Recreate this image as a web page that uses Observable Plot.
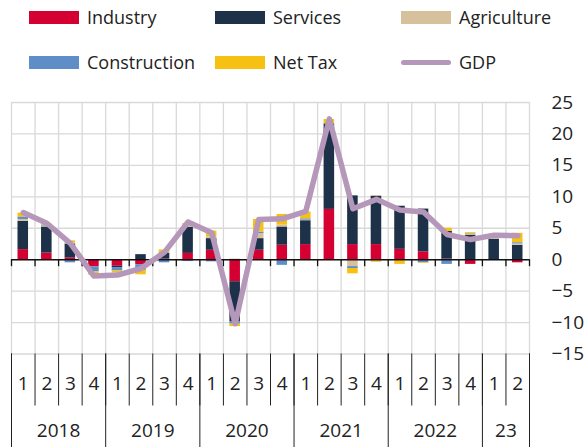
<!DOCTYPE html>
<html>
<head>
<meta charset="utf-8">
<script src="https://cdn.jsdelivr.net/npm/d3@7"></script>
<script src="https://cdn.jsdelivr.net/npm/@observablehq/plot@0.6"></script>
<style>
  body { margin: 0; background: #fff; font-family: "Open Sans", sans-serif; }
  #wrap { position: relative; width: 584px; height: 447px; overflow: hidden; }
  #legend { position: absolute; left: 0; top: 0; width: 584px; height: 90px; }
  .item { position: absolute; display: flex; align-items: center; font-size: 18px; color: #222; }
  .sw { width: 50px; height: 13px; margin-right: 8px; }
  .ln { width: 50px; height: 5px; border-radius: 3px; margin-right: 8px; }
  #chart { position: absolute; left: 0; top: 90px; }
</style>
</head>
<body>
<div id="wrap">
  <div id="legend"></div>
  <div id="chart"></div>
</div>
<script>
const quarterLabels = ["1","2","3","4","1","2","3","4","1","2","3","4","1","2","3","4","1","2","3","4","1","2"];
const yearLabels = ["2018","2019","2020","2021","2022","23"];
const yearQuarterCounts = [4,4,4,4,4,2];

const seriesNames = ["Industry","Services","Agriculture","Construction","Net Tax"];
const seriesColors = ["#d50032","#1d3149","#d7c19d","#5f8dc8","#f7c114"];
const gdpName = "GDP";
const gdpColor = "#b597b9";

const industry     = [1.6, 1.05, 0.3, -1.15, -1.05, -0.8, 0.1, 1.0, 1.5, -3.5, 1.5, 2.3, 2.4, 8.0, 2.4, 2.4, 1.65, 1.25, 0.1, -0.75, -0.1, -0.5];
const services     = [4.5, 4.15, 2.2, 0, -0.2, 0.8, 0.95, 4.15, 1.85, -6.4, 1.85, 2.9, 3.8, 13.6, 7.75, 7.7, 6.85, 6.8, 4.4, 3.9, 3.25, 2.3];
const agriculture  = [0.3, 0.15, 0.2, 0, 0, 0, 0, 0.2, 0.3, 0.1, 0.8, 0.3, 0.1, 0, -1.1, 0.1, 0, 0, 0, 0.1, 0.1, 0.2];
const construction = [0.4, 0.15, -0.5, -0.8, -0.55, -0.9, -0.5, -0.3, -0.35, -0.35, 0.25, -0.9, 0.2, 0, -0.3, -0.2, -0.15, -0.5, -0.75, 0.1, 0.05, 0.2];
const netTax       = [0.6, 0.2, 0.3, -0.5, -0.3, -0.7, 0.5, 0.4, 0.9, -0.4, 2.0, 1.7, 1.1, 0.7, -0.85, -0.2, -0.6, -0.1, 0.5, 0.2, 0.05, 1.5];
const gdp          = [7.5, 5.8, 2.6, -2.6, -2.45, -1.4, 1.2, 6.0, 4.3, -10.2, 6.4, 6.5, 7.7, 22.4, 8.1, 9.6, 7.9, 7.6, 4.0, 3.2, 3.9, 3.8];

const yTicks = [-15,-10,-5,0,5,10,15,20,25];

// Build tables
const seriesValues = [industry, services, agriculture, construction, netTax];
const bars = [];
quarterLabels.forEach((q, i) => {
  seriesNames.forEach((s, k) => bars.push({i, series: s, value: seriesValues[k][i]}));
});
const gdpData = gdp.map((v, i) => ({i, value: v}));
const nQ = quarterLabels.length;
const boundaries = d3.range(0, nQ + 1);
const qCenters = d3.range(nQ).map(i => i + 0.5);
const qLabelMap = new Map(qCenters.map((c, i) => [c, quarterLabels[i]]));
const yearBounds = [0];
const yearCenters = [];
let acc = 0;
yearQuarterCounts.forEach(n => { yearCenters.push(acc + n / 2); acc += n; yearBounds.push(acc); });
const yearLabelMap = new Map(yearCenters.map((c, i) => [c, yearLabels[i]]));

// Legend
const legendItems = [
  {name: seriesNames[0], color: seriesColors[0], type: "sw", left: 29, top: 17},
  {name: seriesNames[1], color: seriesColors[1], type: "sw", left: 215, top: 17},
  {name: seriesNames[2], color: seriesColors[2], type: "sw", left: 401, top: 17},
  {name: seriesNames[3], color: seriesColors[3], type: "sw", left: 29, top: 62},
  {name: seriesNames[4], color: seriesColors[4], type: "sw", left: 215, top: 62},
  {name: gdpName, color: gdpColor, type: "ln", left: 401, top: 62}
];
const legend = document.getElementById("legend");
legendItems.forEach(it => {
  const d = document.createElement("div");
  d.className = "item";
  d.style.left = it.left + "px";
  d.style.top = (it.top - 13) + "px";
  d.style.height = "26px";
  const s = document.createElement("span");
  s.className = it.type;
  s.style.background = it.color;
  d.appendChild(s);
  const t = document.createElement("span");
  t.textContent = it.name;
  d.appendChild(t);
  legend.appendChild(d);
});

const chart = Plot.plot({
  width: 584,
  height: 357,
  marginLeft: 11,
  marginRight: 55,
  marginTop: 12,
  marginBottom: 93.5,
  style: {fontFamily: "Open Sans, sans-serif", fontSize: "19px", color: "#222", background: "#fff"},
  x: {type: "linear", domain: [0, nQ], label: null},
  y: {domain: [-15, 25], label: null},
  color: {domain: seriesNames, range: seriesColors},
  marks: [
    Plot.gridY(yTicks, {stroke: "#d9d9d9", strokeOpacity: 1, strokeWidth: 1.3}),
    Plot.gridX(boundaries, {stroke: "#d9d9d9", strokeOpacity: 1, strokeWidth: 1.3}),
    Plot.rectY(bars, Plot.stackY({x: "i", interval: 1, y: "value", z: "series", fill: "series", insetLeft: 6.5, insetRight: 6.5})),
    Plot.ruleY([0], {stroke: "#111", strokeWidth: 1.5}),
    Plot.ruleX(boundaries, {x: d => d, y1: 0, y2: 0, insetBottom: -7, stroke: "#111", strokeWidth: 1.3}),
    Plot.line(gdpData, {x: d => d.i + 0.5, y: "value", stroke: gdpColor, strokeWidth: 5.5, strokeLinejoin: "round", strokeLinecap: "round"}),
    Plot.axisY(yTicks, {anchor: "right", label: null, tickSize: 0, tickPadding: 22, textAnchor: "start", fontSize: 19}),
    Plot.axisX(boundaries, {anchor: "bottom", label: null, tickSize: 52, tickFormat: () => "", stroke: "#222", strokeWidth: 1}),
    Plot.axisX(yearBounds, {anchor: "bottom", label: null, tickSize: 94, tickFormat: () => "", stroke: "#222", strokeWidth: 1}),
    Plot.axisX(qCenters, {anchor: "bottom", label: null, tickSize: 0, tickPadding: 22, tickFormat: d => qLabelMap.get(d), fontSize: 19}),
    Plot.axisX(yearCenters, {anchor: "bottom", label: null, tickSize: 0, tickPadding: 69, tickFormat: d => yearLabelMap.get(d), fontSize: 19})
  ]
});
document.getElementById("chart").appendChild(chart);
</script>
</body>
</html>
